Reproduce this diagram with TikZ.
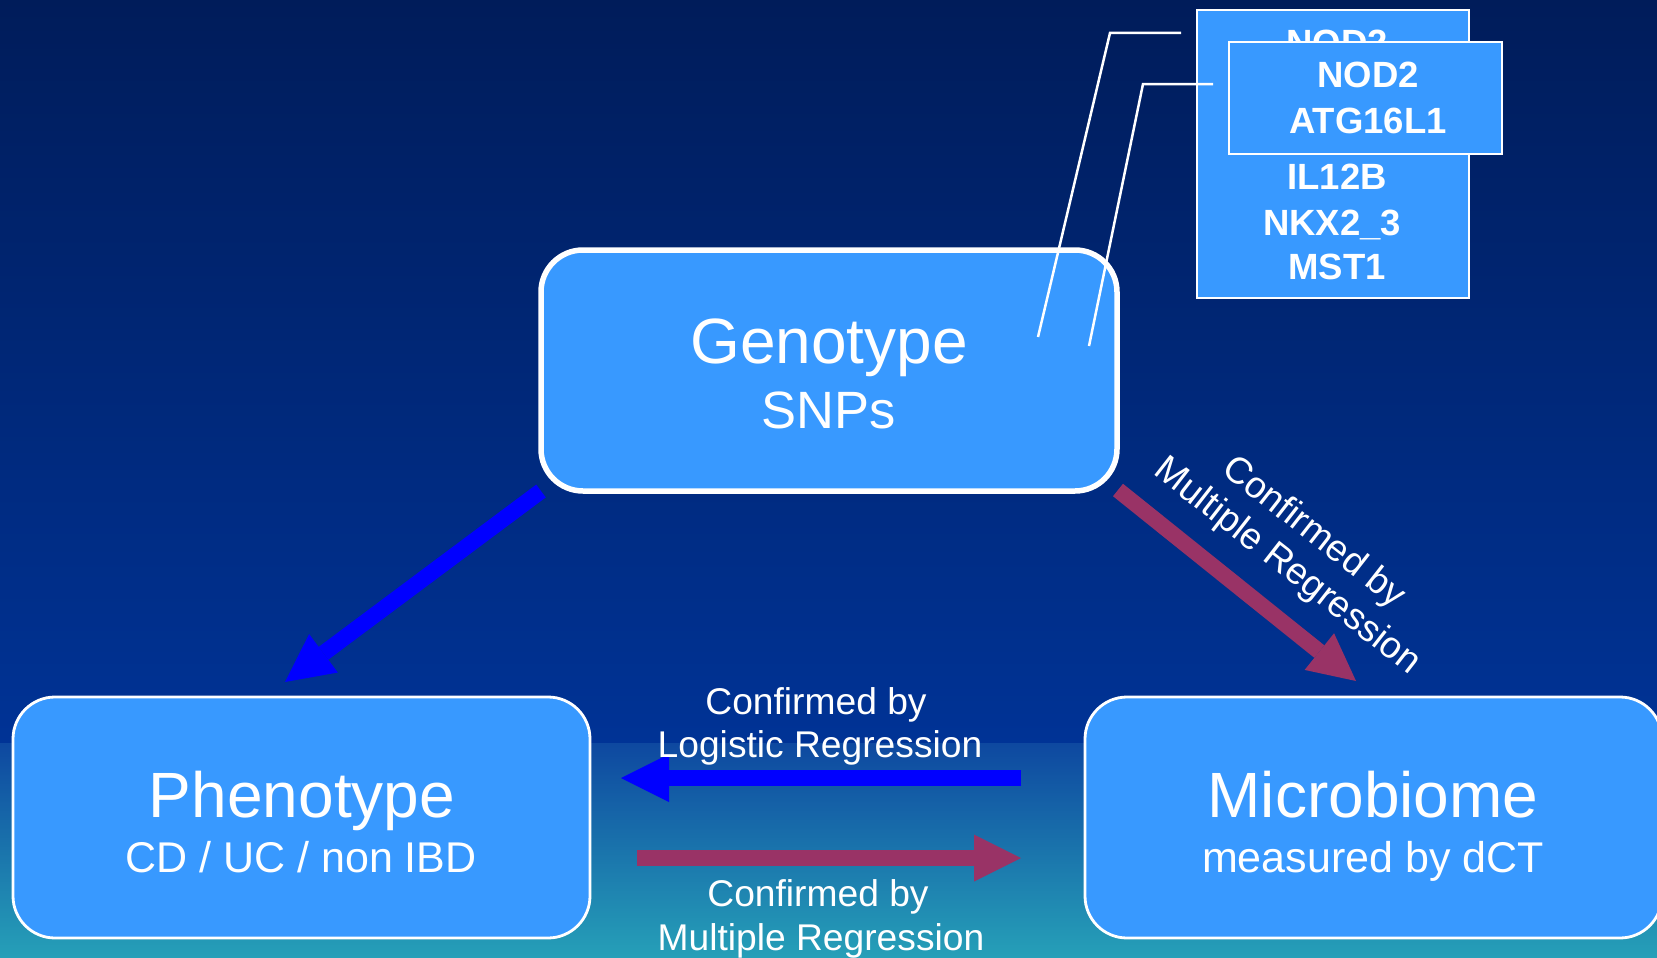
\documentclass[tikz,border=0pt]{standalone}
\usepackage{fontspec}
\setmainfont{Liberation Sans}
\usetikzlibrary{arrows.meta}
\definecolor{bgtop}{RGB}{0,28,90}
\definecolor{bgmid}{RGB}{0,51,150}
\definecolor{bglow}{RGB}{14,72,160}
\definecolor{bgbot}{RGB}{38,160,184}
\definecolor{boxfill}{RGB}{56,153,255}
\definecolor{plum}{RGB}{153,51,102}
\definecolor{pureblue}{RGB}{0,0,255}
\begin{document}
\begin{tikzpicture}[x=1pt,y=-1pt,
  bigbox/.style={draw=white, fill=boxfill, rounded corners=42pt, inner sep=0pt},
  genebox/.style={draw=white, fill=boxfill, line width=2.5pt, inner sep=0pt},
  txt/.style={text=white, inner sep=0pt, anchor=base},
  bigtxt/.style={txt, font=\fontsize{64}{72}\selectfont},
  midtxt/.style={txt, font=\fontsize{43}{50}\selectfont},
  genetxt/.style={txt, font=\fontsize{36.5}{42}\selectfont\bfseries},
  labtxt/.style={txt, font=\fontsize{37.2}{43}\selectfont},
  wline/.style={draw=white, line width=2.5pt},
  bluearrow/.style={draw=pureblue, line width=16pt, -{Triangle[length=48pt,width=48pt,line width=0pt]}},
  plumarrow/.style={draw=plum, line width=16pt, -{Triangle[length=47pt,width=47pt,line width=0pt]}}
]
\useasboundingbox (0,0) rectangle (1657,958);
\clip (0,0) rectangle (1657,958);
% background
\shade[top color=bgtop, bottom color=bgmid] (0,0) rectangle (1657,744);
\shade[top color=bglow, bottom color=bgbot] (0,743) rectangle (1657,958);

% Genotype box
\node[bigbox, line width=5.5pt, minimum width=576pt, minimum height=241pt] (geno) at (829,370.5) {};
\node[bigtxt] (genot) at (829,363) {Genotype};
\node[txt, font=\fontsize{52.5}{60}\selectfont] (snps) at (829,428) {SNPs};

% gene boxes
\node[genebox, minimum width=272pt, minimum height=288pt] (gback) at (1333,154) {};
\node[genetxt] (gb1) at (1337,56) {NOD2};
\node[genetxt] (gb3) at (1337,189) {IL12B};
\node[genetxt] (gb4) at (1332,235) {NKX2\_3};
\node[genetxt] (gb5) at (1337,279) {MST1};
\node[genebox, minimum width=273pt, minimum height=112pt] (gfront) at (1365.5,98) {};
\node[genetxt] (gf1) at (1368,88) {NOD2};
\node[genetxt] (gf2) at (1368,133) {ATG16L1};

% leader lines
\coordinate (l1a) at (1181,33);
\coordinate (l1b) at (1110,33);
\coordinate (l1c) at (1038,337);
\coordinate (l2a) at (1213,84);
\coordinate (l2b) at (1143,84);
\coordinate (l2c) at (1089,346);
\draw[wline] (l1a) -- (l1b) -- (l1c);
\draw[wline] (l2a) -- (l2b) -- (l2c);

% Phenotype and Microbiome boxes
\node[bigbox, line width=2.8pt, minimum width=577pt, minimum height=241pt] (pheno) at (301.5,817.5) {};
\node[bigtxt] (phenot) at (302,817) {Phenotype};
\node[midtxt] (phenos) at (301,872) {CD / UC / non IBD};
\node[bigbox, line width=2.8pt, minimum width=577pt, minimum height=241pt] (micro) at (1373.5,817.5) {};
\node[bigtxt] (microt) at (1373,817) {Microbiome};
\node[midtxt] (micros) at (1373,872) {measured by dCT};

% arrows
\coordinate (bdstart) at (541,491);
\coordinate (bdtip) at (285,682);
\coordinate (pdstart) at (1118,490);
\coordinate (pdtip) at (1356,681);
\coordinate (bhstart) at (1021,778);
\coordinate (bhtip) at (621,778);
\coordinate (phstart) at (637,858);
\coordinate (phtip) at (1021,858);
\draw[bluearrow] (bdstart) -- (bdtip);
\draw[plumarrow] (pdstart) -- (pdtip);
\draw[bluearrow] (bhstart) -- (bhtip);
\draw[plumarrow] (phstart) -- (phtip);

% labels
\node[labtxt] (lab1a) at (816,714) {Confirmed by};
\node[labtxt] (lab1b) at (820,757) {Logistic Regression};
\node[labtxt] (lab2a) at (818,906) {Confirmed by};
\node[labtxt] (lab2b) at (821,950) {Multiple Regression};
\node[text=white, inner sep=0pt, align=center, rotate=-38, font=\fontsize{37.2}{43}\selectfont] (lab3) at (1300,550) {Confirmed by\\Multiple Regression};
\end{tikzpicture}
\end{document}
